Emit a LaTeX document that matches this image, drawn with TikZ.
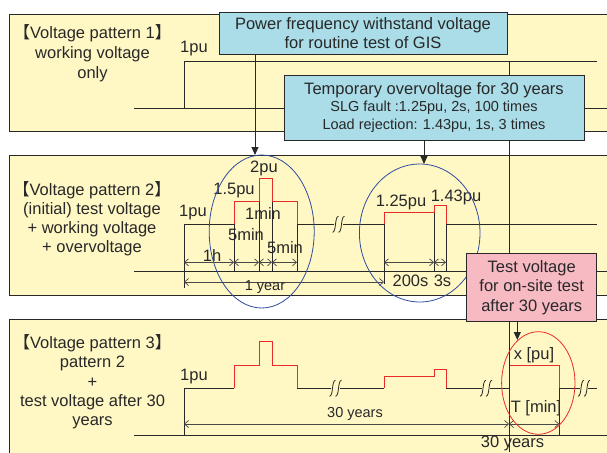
\documentclass[tikz,border=0pt]{standalone}
\usepackage{fontspec}
\setmainfont{Liberation Sans}
\newfontfamily\cjkfont{Noto Sans CJK JP}
\usetikzlibrary{arrows.meta}
\definecolor{panelfill}{RGB}{255,248,197}
\definecolor{bluefill}{RGB}{170,221,232}
\definecolor{pinkfill}{RGB}{247,186,195}
\definecolor{wavered}{RGB}{232,45,40}
\definecolor{ellblue}{RGB}{45,75,160}
\definecolor{ink}{RGB}{40,40,40}
\newcommand{\lbk}{{\cjkfont 【}}
\newcommand{\rbk}{{\cjkfont 】}}
\tikzset{
  panel/.style={draw=ink, fill=panelfill, line width=0.9pt},
  wave/.style={draw=ink, line width=0.9pt},
  hot/.style={draw=wavered, line width=0.9pt},
  dimen/.style={draw=ink!85, line width=0.7pt, {Straight Barb[length=4pt,width=7pt]}-{Straight Barb[length=4pt,width=7pt]}},
  callout/.style={draw=ink, line width=0.9pt, -{Triangle[length=8pt,width=7pt]}},
  txt/.style={text=ink, font=\fontsize{16.5}{19.5}\selectfont, inner sep=0pt, align=center},
  smalltxt/.style={text=ink, font=\fontsize{14.5}{17}\selectfont, inner sep=0pt, align=center},
  infobox/.style={draw=ink, line width=0.9pt, inner sep=0pt, align=center, text=ink, font=\fontsize{16.5}{19.5}\selectfont},
  ell/.style={line width=0.8pt},
  brk/.pic={
    \draw[wave, line width=0.8pt] (-6,8) .. controls (-2,8) and (-4,-8) .. (0,-8);
    \draw[wave, line width=0.8pt] (0,8) .. controls (4,8) and (2,-8) .. (6,-8);
  }
}
\begin{document}
\begin{tikzpicture}[x=1pt,y=-1pt]
\useasboundingbox (0,0) rectangle (607,452);
\clip (0,0) rectangle (607,452);
% panels
\draw[panel] (9,14) rectangle (640,131);
\draw[panel] (9,155) rectangle (640,295);
\draw[panel] (9,319) rectangle (640,470);

% panel labels
\node[txt, font=\fontsize{16.5}{20}\selectfont] (lab1) at (92.5,53) {\lbk Voltage pattern 1\rbk\\working voltage\\only};
\node[txt, font=\fontsize{16.5}{19}\selectfont] (lab2) at (92,218.5) {\lbk Voltage pattern 2\rbk\\(initial) test voltage\\+ working voltage\\+ overvoltage};
\node[txt, font=\fontsize{16.5}{19.3}\selectfont] (lab3) at (92.5,382) {\lbk Voltage pattern 3\rbk\\pattern 2\\+\\test voltage after 30\\years};

% ---------- pattern 1
\draw[wave] (134,108) -- (640,108);
\draw[wave] (184,108) -- (184,61) -- (597,61);
\node[txt] (p1one) at (194,49) {1pu};

% ---------- pattern 2
\draw[wave] (134,271.7) -- (640,271.7);
\draw[wave] (184,288) -- (184,224.3) -- (234,224.3);
\draw[wave] (297,224.3) -- (334,224.3);
\pic at (338.5,224.3) {brk};
\draw[wave] (343,224.3) -- (384,224.3);
\draw[wave] (446,224.3) -- (597,224.3);
% drop lines
\draw[wave] (234,224.3) -- (234,271.7);
\draw[wave] (259,201) -- (259,271.7);
\draw[wave] (272,201) -- (272,271.7);
\draw[wave] (297,224.3) -- (297,271.7);
\draw[wave] (384,224.3) -- (384,284);
\draw[wave] (434,212) -- (434,271.7);
\draw[wave] (446,224.3) -- (446,271.7);
% red pulses
\draw[hot] (234,224.3) -- (234,201) -- (259,201) -- (259,178) -- (272,178) -- (272,201) -- (297,201) -- (297,224.3);
\draw[hot] (384,224.3) -- (384,212) -- (434,212) -- (434,205.5) -- (446,205.5) -- (446,224.3);
% dimensions
\draw[dimen] (184,262.3) -- (234,262.3);
\draw[dimen] (234,262.3) -- (259,262.3);
\draw[dimen] (259,262.3) -- (272,262.3);
\draw[dimen] (272,262.3) -- (297,262.3);
\draw[dimen] (384,262.3) -- (434,262.3);
\draw[dimen] (434,262.3) -- (446,262.3);
\draw[dimen] (184,282) -- (384,282);
% labels
\node[txt] (p2one) at (193,213) {1pu};
\node[txt] (p2onefive) at (234,191) {1.5pu};
\node[txt] (p2two) at (264,168) {2pu};
\node[txt] (p2onemin) at (263,213.3) {1min};
\node[txt] (p2fivea) at (246,235) {5min};
\node[txt] (p2fiveb) at (285,247.7) {5min};
\node[txt] (p2hour) at (212,256) {1h};
\node[smalltxt] (p2year) at (265,287) {1 year};
\node[txt] (p2oneTwoFive) at (401,202) {1.25pu};
\node[txt] (p2oneFourThree) at (456,197) {1.43pu};
\node[txt] (p2twohundred) at (410.5,281) {200s};
\node[txt] (p2three) at (442.5,281) {3s};

% ---------- pattern 3
\draw[wave] (134,435) -- (640,435);
\draw[wave] (184,435) -- (184,388.3) -- (234,388.3);
\draw[hot] (234,388.3) -- (234,365) -- (259,365) -- (259,341.7) -- (272,341.7) -- (272,365) -- (297,365) -- (297,388.3);
\draw[wave] (297,388.3) -- (331,388.3);
\pic at (335.5,388.3) {brk};
\draw[wave] (340,388.3) -- (384,388.3);
\draw[hot] (384,388.3) -- (384,376) -- (434,376) -- (434,369.3) -- (446,369.3) -- (446,388.3);
\draw[wave] (446,388.3) -- (482,388.3);
\pic at (486,388.3) {brk};
\draw[wave] (490,388.3) -- (509,388.3);
\draw[hot] (509,388.3) -- (509,365.7) -- (559.3,365.7) -- (559.3,388.3);
\draw[wave] (559.3,388.3) -- (580,388.3);
\pic at (584,388.3) {brk};
\draw[wave] (588,388.3) -- (597,388.3);
\draw[wave] (559.3,388.3) -- (559.3,435);
\draw[dimen] (184,424) -- (509,424);
\draw[dimen] (509,424) -- (559.3,424);
\node[txt] (p3one) at (194,377) {1pu};
\node[smalltxt] (p3thirty) at (355,413.5) {30 years};
\node[txt] (p3x) at (534,355) {x [pu]};
\node[txt] (p3T) at (536,408) {T [min]};
\node[txt, anchor=base, font=\fontsize{16.5}{20}\selectfont] (p3bottom) at (512.5,447.5) {30 years};

% long marker line at 30 years
\draw[wave] (509,61) -- (509,452);

% ellipses
\draw[ell, ellblue] (261.7,231.5) ellipse [x radius=52.5pt, y radius=76.5pt];
\draw[ell, ellblue] (419.7,233) ellipse [x radius=60.3pt, y radius=69pt];
\draw[ell, wavered] (538.3,383) ellipse [x radius=36.7pt, y radius=51.3pt];

% info boxes
\node[infobox, fill=bluefill, minimum width=288pt, minimum height=42pt] (pf) at (363,33) {Power frequency withstand voltage\\for routine test of GIS};
\node[infobox, fill=bluefill, minimum width=300pt, minimum height=65pt, font=\fontsize{14.5}{17.5}\selectfont] (tov) at (434,107.5) {{\fontsize{16.5}{17.5}\selectfont Temporary overvoltage for 30 years}\\SLG fault :1.25pu, 2s, 100 times\\Load rejection: 1.43pu, 1s, 3 times};
\node[infobox, fill=pinkfill, minimum width=130pt, minimum height=68.4pt] (tv) at (531.7,287.5) {Test voltage\\for on-site test\\after 30 years};

% callout arrows
\coordinate (pfTip) at (255,155);
\draw[callout] (pf.south -| pfTip) -- (pfTip);
\coordinate (tovTip) at (424,164);
\draw[callout] (tov.south -| tovTip) -- (tovTip);
\coordinate (tvTip) at (517.3,340);
\draw[callout] (tv.south -| tvTip) -- (tvTip);
\end{tikzpicture}
\end{document}
